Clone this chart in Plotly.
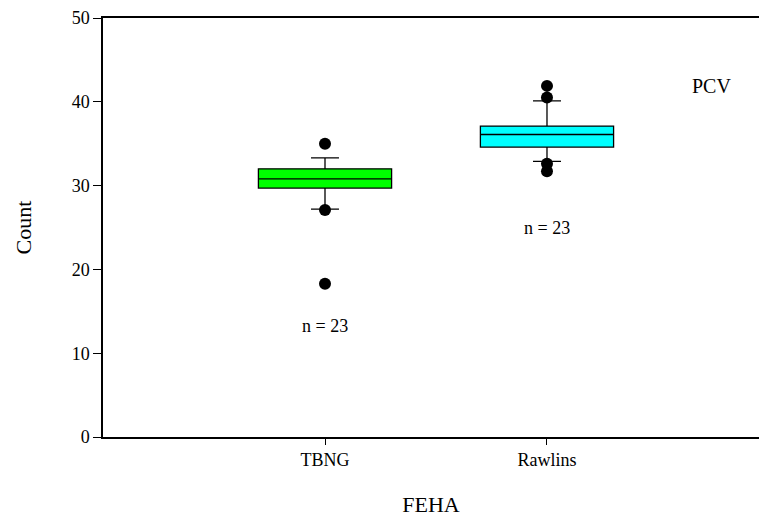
import plotly.graph_objects as go

categories = ["TBNG", "Rawlins"]
q1 = [29.7, 34.6]
median = [30.8, 36.1]
q3 = [32.0, 37.1]
lower_whisker = [27.2, 32.9]
upper_whisker = [33.3, 40.1]
box_colors = ["#00ff00", "#00ffff"]
outliers = {
    "TBNG": [35.0, 27.1, 18.3],
    "Rawlins": [41.9, 40.5, 32.6, 31.7],
}
n_labels = ["n = 23", "n = 23"]
n_label_y = [13.3, 25.0]

FONT = "Liberation Serif"

fig = go.Figure()
for i, c in enumerate(categories):
    fig.add_trace(go.Box(
        x=[c], q1=[q1[i]], median=[median[i]], q3=[q3[i]],
        lowerfence=[lower_whisker[i]], upperfence=[upper_whisker[i]],
        fillcolor=box_colors[i], line=dict(color="black", width=1.3),
        width=0.6, whiskerwidth=0.21, boxpoints=False, showlegend=False,
        hoverinfo="skip",
    ))
    fig.add_trace(go.Scatter(
        x=[c] * len(outliers[c]), y=outliers[c], mode="markers",
        marker=dict(color="black", size=12), showlegend=False,
    ))
    fig.add_annotation(x=c, y=n_label_y[i], text=n_labels[i], showarrow=False,
                       font=dict(family=FONT, size=18, color="black"))

fig.add_annotation(x=0.928, y=0.838, xref="paper", yref="paper", text="PCV",
                   xanchor="center", yanchor="middle",
                   showarrow=False, font=dict(family=FONT, size=20, color="black"))

fig.update_layout(
    width=759, height=517,
    margin=dict(l=103, r=0, t=18, b=80),
    paper_bgcolor="white", plot_bgcolor="white",
    font=dict(family=FONT, size=18, color="black"),
    xaxis=dict(
        type="category", categoryorder="array", categoryarray=categories,
        range=[-1.0, 1.955], showline=True, linecolor="black", linewidth=1.5,
        mirror=True, ticks="outside", ticklen=6, tickcolor="black",
        showgrid=False, zeroline=False,
        title=dict(text="FEHA", font=dict(family=FONT, size=22), standoff=28),
        tickfont=dict(family=FONT, size=18),
    ),
    yaxis=dict(
        range=[0, 50], tickvals=[0, 10, 20, 30, 40, 50],
        showline=True, linecolor="black", linewidth=1.5,
        ticks="outside", ticklen=8, tickcolor="black",
        showgrid=False, zeroline=False,
        title=dict(text="Count", font=dict(family=FONT, size=22), standoff=34),
        tickfont=dict(family=FONT, size=18),
    ),
)

fig.write_html(
    "out.html",
    config={"displayModeBar": False},
    post_script="document.body.style.margin='0';document.body.style.overflow='hidden';",
)
